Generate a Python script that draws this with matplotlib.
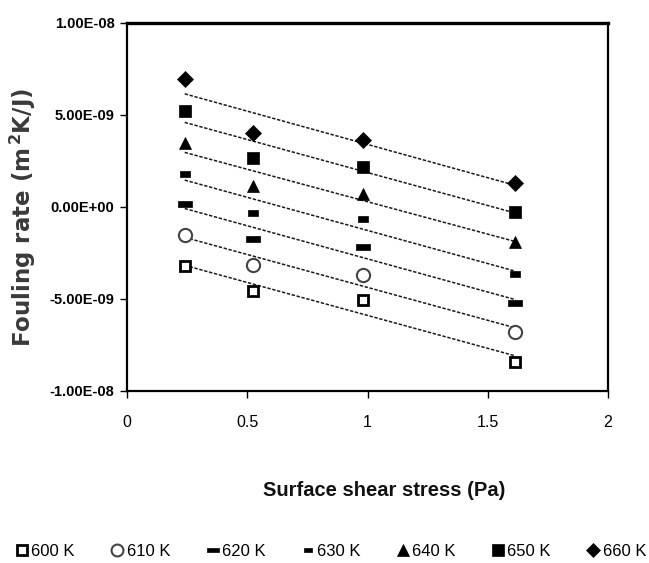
import numpy as np
import matplotlib
matplotlib.use("Agg")
import matplotlib.pyplot as plt
from matplotlib.lines import Line2D

plt.rcParams['font.family'] = ['Liberation Sans', 'DejaVu Sans']

shear = [0.24, 0.525, 0.98, 1.615]
labels = ["600 K", "610 K", "620 K", "630 K", "640 K", "650 K", "660 K"]
r600 = [-3.22e-9, -4.58e-9, -5.07e-9, -8.42e-9]
r610 = [-1.54e-9, -3.17e-9, -3.71e-9, -6.79e-9]
r620 = [0.15e-9, -1.76e-9, -2.17e-9, -5.22e-9]
r630 = [1.81e-9, -0.33e-9, -0.68e-9, -3.62e-9]
r640 = [3.45e-9, 1.13e-9, 0.69e-9, -1.90e-9]
r650 = [5.22e-9, 2.63e-9, 2.17e-9, -0.27e-9]
r660 = [6.92e-9, 4.02e-9, 3.63e-9, 1.30e-9]
series = [r600, r610, r620, r630, r640, r650, r660]

wide_dash = [(-1, -0.38), (1, -0.38), (1, 0.38), (-1, 0.38), (-1, -0.38)]
small_dash = [(-1, -0.6), (1, -0.6), (1, 0.6), (-1, 0.6), (-1, -0.6)]
styles = [
    dict(marker='s', ms=7.5, mfc='white', mec='black', mew=2.0),
    dict(marker='o', ms=9.5, mfc='white', mec='#444444', mew=1.5),
    dict(marker=wide_dash, ms=9.5, mfc='black', mec='black', mew=0.5),
    dict(marker=small_dash, ms=6.5, mfc='black', mec='black', mew=0.5),
    dict(marker='^', ms=9, mfc='black', mec='black', mew=0.5),
    dict(marker='s', ms=9, mfc='black', mec='black', mew=0.5),
    dict(marker='D', ms=8, mfc='black', mec='black', mew=0.5),
]

fig = plt.figure(figsize=(6.49, 5.63), dpi=100)
ax = fig.add_axes([127/649, 1-391/563, (608-127)/649, (391-22.7)/563])

x = np.array(shear)
handles = []
for vals, st, lab in zip(series, styles, labels):
    y = np.array(vals)
    p = np.polyfit(x, y, 1)
    xf = np.array([x.min(), x.max()])
    ax.plot(xf, np.polyval(p, xf), color='#1a1a1a', lw=1.1, ls=(0, (2.2, 1.1)), zorder=2)
    ax.plot(x, y, ls='none', zorder=3, **st)
    handles.append(Line2D([], [], ls='none', **{**st, 'ms': st['ms']*0.9}))

ax.set_xlim(0, 2)
ax.set_ylim(-1e-8, 1e-8)
ax.set_xticks([0, 0.5, 1, 1.5, 2])
ax.set_xticklabels(['0', '0.5', '1', '1.5', '2'], fontsize=11.5)
yt = [-1e-8, -5e-9, 0, 5e-9, 1e-8]
ax.set_yticks(yt)
ax.set_yticklabels(['-1.00E-08', '-5.00E-09', '0.00E+00', '5.00E-09', '1.00E-08'],
                   fontsize=10.5, fontweight='bold')
ax.tick_params(axis='both', direction='out', length=5, width=1, colors='black', pad=4)
ax.tick_params(axis='x', pad=12)
for s in ax.spines.values():
    s.set_linewidth(1.6)
    s.set_color('black')
ax.spines['top'].set_linewidth(2.4)

fig.text(23/649, 1-217/563, 'Fouling rate (m$\\mathregular{^{\\,2}}$K/J)', rotation=90,
         ha='center', va='center', fontsize=16.5, fontweight='bold', color='#3a3a3a',
         family=['DejaVu Sans'])
fig.text(384/649, 1-491/563, 'Surface shear stress (Pa)', ha='center', va='center',
         fontsize=14.5, fontweight='bold', color='#111111')

fig.legend(handles, labels, loc='center', bbox_to_anchor=(330/649, 1-551/563), ncol=7,
           frameon=False, handletextpad=0.05, columnspacing=2.05, handlelength=1.0,
           prop={'size': 12})

fig.savefig('out.png', dpi=100)
